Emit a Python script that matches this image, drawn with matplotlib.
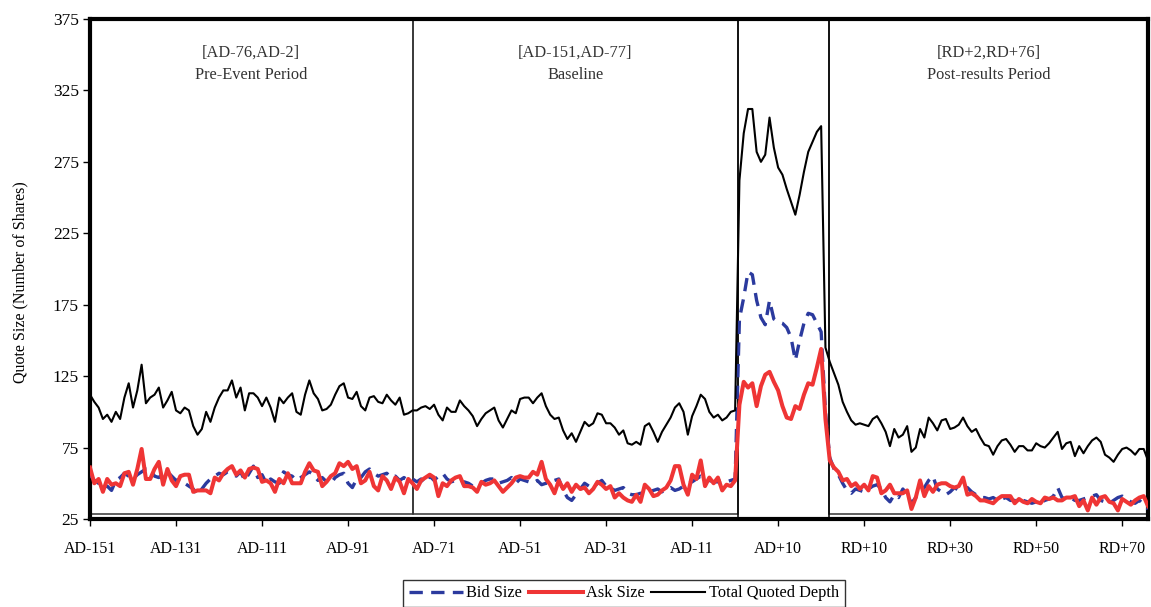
import numpy as np
import matplotlib
matplotlib.use('Agg')
import matplotlib.pyplot as plt
from matplotlib.patches import Rectangle

plt.rcParams['font.family'] = ['Liberation Serif', 'DejaVu Serif']

# tick labels along the event-time axis (one point per trading day)
tick_labels = ['AD-151', 'AD-131', 'AD-111', 'AD-91', 'AD-71', 'AD-51', 'AD-31',
               'AD-11', 'AD+10', 'RD+10', 'RD+30', 'RD+50', 'RD+70']

period_titles = ['[AD-76,AD-2]\nPre-Event Period',
                 '[AD-151,AD-77]\nBaseline',
                 '[RD+2,RD+76]\nPost-results Period']

total_depth = [
    112, 107, 103, 95, 98, 93, 100, 95, 110, 120,
    103, 115, 133, 106, 110, 112, 117, 103, 108, 114,
    101, 99, 103, 101, 90, 84, 88, 100, 93, 103,
    110, 115, 115, 122, 110, 117, 101, 113, 113, 110,
    104, 110, 103, 93, 110, 106, 110, 113, 100, 98,
    112, 122, 113, 109, 101,
    102, 105, 112, 118, 120,
    110, 109, 114, 104, 101, 110, 111, 107, 106, 112,
    108, 105, 110, 98, 99, 101, 101, 103, 104, 102,
    105, 98, 94, 103, 100, 100, 108, 104, 101, 97,
    90, 95, 99, 101, 103, 94, 89, 95, 101, 99,
    109, 110, 110, 106, 110, 113, 104, 98, 95, 96,
    87, 81, 85, 79, 86, 93, 90, 92, 99, 98,
    92, 92, 89, 84, 87, 78, 77, 79, 77, 90,
    92, 86, 79, 86, 91, 96, 103, 106, 100, 84,
    97, 104, 112, 109, 100, 96, 98, 94, 96, 100,
    101,
    262, 295, 312, 312, 282, 275, 280, 306, 285, 271,
    266, 256, 247, 238, 252, 268, 282, 289, 296, 300,
    145,
    135, 127, 119, 107, 100, 94, 91, 92, 91, 90,
    95, 97, 92, 86, 76, 88, 82, 84, 90, 72,
    75, 88, 82, 96, 92, 87, 94, 95, 88, 89,
    91, 96, 90, 86, 88, 82, 77, 76, 70, 76,
    80, 81, 77, 72, 76, 76, 73, 73, 78, 76,
    75, 78, 82, 86, 74, 78, 79, 69, 76, 71,
    76, 80, 82, 79, 70, 68, 65, 70, 74, 75,
    73, 70, 74, 74, 66,
]

ask_size = [
    61, 50, 53, 44, 53, 49, 50, 48, 57, 58,
    49, 60, 74, 53, 53, 60, 65, 49, 60, 52,
    48, 55, 56, 56, 44, 45, 45, 45, 43, 54,
    52, 57, 60, 62, 56, 59, 54, 60, 61, 60,
    51, 52, 50, 44, 53, 50, 57, 50, 50, 50,
    58, 64, 59, 58, 48,
    51, 55, 57, 64, 62,
    65, 60, 62, 50, 52, 58, 48, 45, 55, 52,
    46, 54, 51, 43, 53, 50, 46, 52, 54, 56,
    54, 41, 50, 48, 52, 54, 55, 48, 48, 47,
    44, 51, 49, 50, 52, 48, 44, 47, 50, 54,
    55, 54, 54, 58, 56, 65, 53, 49, 43, 52,
    46, 50, 44, 49, 46, 47, 43, 46, 51, 49,
    46, 48, 40, 43, 40, 38, 37, 42, 37, 49,
    46, 41, 42, 45, 47, 52, 62, 62, 49, 42,
    56, 53, 66, 48, 54, 50, 54, 45, 49, 48,
    52,
    105, 121, 117, 120, 104, 118, 126, 128, 121, 115,
    104, 96, 95, 104, 102, 112, 120, 119, 131, 144,
    95,
    66, 61, 58, 52, 53, 48, 50, 46, 49, 45,
    55, 54, 43, 45, 49, 43, 43, 43, 45, 32,
    40, 52, 41, 48, 44, 49, 50, 50, 48, 47,
    48, 54, 42, 43, 41, 38, 38, 37, 36, 39,
    41, 41, 41, 36, 39, 37, 36, 39, 37, 36,
    40, 39, 40, 38, 38, 40, 40, 41, 34, 38,
    31, 40, 35, 40, 41, 37, 36, 31, 39, 37,
    35, 38, 40, 41, 34,
]

bid_size = [
    56, 52, 50, 47, 48, 45, 52, 54, 57, 55,
    53, 56, 58, 60, 60, 55, 54, 57, 58, 55,
    52, 53, 50, 48, 46, 42, 46, 50, 53, 55,
    57, 56, 58, 57, 55, 58, 52, 57, 62, 54,
    56, 50, 53, 51, 50, 58, 56, 55, 52, 54,
    56, 58, 56, 52, 54,
    51, 50, 54, 56, 57,
    50, 47, 53, 54, 58, 60, 57, 55, 56, 57,
    54, 55, 52, 54, 52, 53, 51, 53, 50, 55,
    52, 55, 57, 53, 51, 52, 50, 51, 50, 48,
    49, 50, 52, 53, 53, 50, 51, 52, 54, 50,
    53, 52, 51, 50, 52, 49, 50, 50, 52, 53,
    45, 40, 38, 42, 46, 50, 48, 47, 50, 52,
    48, 47, 45, 46, 47, 43, 42, 42, 43, 43,
    44, 45, 46, 44, 46, 47, 45, 46, 48, 50,
    51, 53, 55, 54, 52, 51, 51, 52, 51, 52,
    53,
    165, 180, 198, 196, 178, 166, 161, 178, 165, 163,
    162, 159, 152, 136, 150, 162, 169, 168, 162, 156,
    100,
    68, 60, 56, 50, 45, 43, 46, 45, 44, 46,
    48, 49, 46, 40, 37, 42, 40, 46, 42, 36,
    40, 44, 47, 52, 55, 46, 44, 42, 44, 47,
    45, 46, 47, 44, 42, 40, 40, 39, 40, 38,
    39, 40, 38, 38, 37, 38, 37, 36, 37, 36,
    38, 39, 41, 47, 40, 39, 40, 38, 38, 39,
    40, 41, 42, 38, 37, 36, 38, 40, 41, 39,
    37, 36, 38, 35, 32,
]

x = np.arange(len(total_depth))

fig = plt.figure(figsize=(11.51, 6.07), dpi=100)
ax = fig.add_axes([0.0782, 0.145, 0.9192, 0.8237])

# period boxes (thin frames)
bounds = [(0, 75), (75, 150.7), (171.9, x[-1])]
for (a, b), title in zip(bounds, period_titles):
    ax.add_patch(Rectangle((a, 28.3), b - a, 375 - 28.3, fill=False,
                           edgecolor='#333333', lw=1.1, zorder=1))
    ax.text((a + b) / 2, 357, title, ha='center', va='top', fontsize=11.8,
            color='#333333', linespacing=1.55)
ax.axvline(150.7, color='black', lw=1.1, zorder=1)
ax.axvline(171.9, color='black', lw=1.1, zorder=1)

ax.plot(x, bid_size, color='#2b3a9e', lw=2.4, dashes=(4, 2.5), label='Bid Size', zorder=3)
ax.plot(x, ask_size, color='#ef3535', lw=2.9, label='Ask Size', zorder=4)
ax.plot(x, total_depth, color='black', lw=1.5, label='Total Quoted Depth', zorder=5)

ax.set_xlim(0, x[-1])
ax.set_ylim(25, 375)
ax.set_yticks(np.arange(25, 376, 50))
ax.set_xticks(np.arange(0, 241, 20))
ax.set_xticklabels(tick_labels)
ax.tick_params(axis='both', direction='out', length=5, width=1)
ax.tick_params(axis='x', labelsize=11.5, pad=11)
ax.tick_params(axis='y', labelsize=12.5, pad=3)
for s in ax.spines.values():
    s.set_linewidth(3)

fig.text(0.018, 0.535, 'Quote Size (Number of Shares)', rotation=90,
         ha='center', va='center', fontsize=11.5)

leg = fig.legend(loc='upper center', bbox_to_anchor=(0.542, 0.045), ncol=3,
                 frameon=True, fancybox=False, edgecolor='black', fontsize=11.8,
                 handlelength=3.3, handletextpad=0.2, columnspacing=0.4,
                 borderpad=0.35, borderaxespad=0)
leg.get_frame().set_linewidth(1)

fig.savefig('out.png', dpi=100)
